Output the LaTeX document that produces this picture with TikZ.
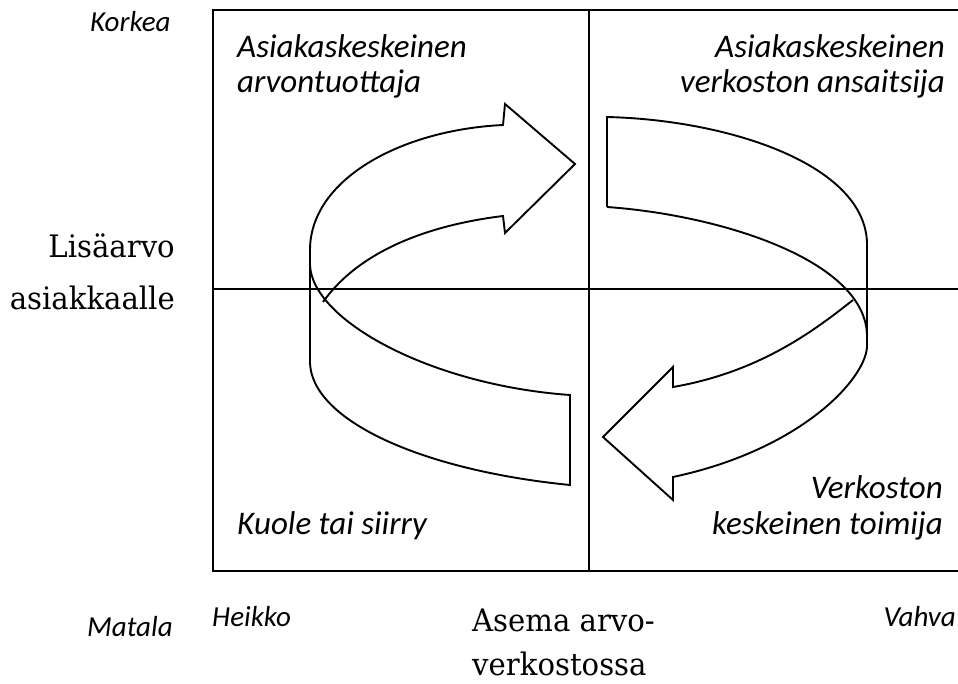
\documentclass[tikz,border=0pt]{standalone}
\usepackage{fontspec}
\setmainfont{DejaVu Serif}[FakeStretch=0.94]
\newfontfamily\calfont{Carlito}
\begin{document}
\begin{tikzpicture}[x=1pt,y=-1pt,
  frame/.style={line width=2.2pt},
  band/.style={line width=1.9pt, line join=miter},
  qlab/.style={font=\calfont\itshape\fontsize{33}{35}\selectfont, inner sep=0},
  alab/.style={font=\calfont\itshape\fontsize{29}{30}\selectfont, inner sep=0},
  slab/.style={font=\fontsize{31}{40}\selectfont, inner sep=0}]
\useasboundingbox (0,0) rectangle (958,684);
% frame and axes
\coordinate (tl) at (213,10);
\coordinate (bl) at (213,571);
\coordinate (tr) at (958,10);
\coordinate (br) at (958,571);
\coordinate (mt) at (589,10);
\coordinate (mb) at (589,571);
\coordinate (ml) at (213,289);
\coordinate (mr) at (958,289);
\draw[frame] (tr) -- (tl) -- (bl) -- (br);
\draw[frame] (mt) -- (mb);
\draw[frame] (ml) -- (mr);
% left loop
\draw[band] (310,363) -- (310,250) .. controls (310,180) and (400,130) .. (503,125)
  -- (505,104) -- (575,164) -- (505,233) -- (503,216)
  .. controls (430,225) and (360,250) .. (323,302);
\draw[band] (310,363) .. controls (312,420) and (420,470) .. (570,485) -- (570,395)
  .. controls (430,385) and (312,320) .. (310,265);
% right loop
\draw[band] (607,207) -- (607,117) .. controls (730,120) and (865,165) .. (867,243)
  -- (867,347) .. controls (865,380) and (800,450) .. (673,477)
  -- (673,500) -- (603,437) -- (673,367) -- (673,387)
  .. controls (760,372) and (815,330) .. (853,300);
\draw[band] (607,207) .. controls (720,215) and (865,260) .. (867,335);
% quadrant labels
\node[qlab, anchor=base west] (tl1) at (237,58) {Asiakaskeskeinen};
\node[qlab, anchor=base west] (tl2) at (237,93) {arvontuottaja};
\node[qlab, anchor=base east] (tr1) at (945,58) {Asiakaskeskeinen};
\node[qlab, anchor=base east] (tr2) at (945,93) {verkoston ansaitsija};
\node[qlab, anchor=base west] (bl1) at (237,534) {Kuole tai siirry};
\node[qlab, anchor=base east] (br1) at (943,498) {Verkoston};
\node[qlab, anchor=base east] (br2) at (943,534) {keskeinen toimija};
% axis labels
\node[alab, anchor=base west] (hi) at (90,32) {Korkea};
\node[alab, anchor=base west] (lo) at (87,636) {Matala};
\node[alab, anchor=base west] (we) at (212,626) {Heikko};
\node[alab, anchor=base east] (st) at (956,626) {Vahva};
\node[slab, anchor=base east] (y1) at (175,258) {Lisäarvo};
\node[slab, anchor=base east] (y2) at (175,310) {asiakkaalle};
\node[slab, anchor=base west] (x1) at (472,631) {Asema arvo-};
\node[slab, anchor=base west] (x2) at (472,675) {verkostossa};
\end{tikzpicture}
\end{document}
